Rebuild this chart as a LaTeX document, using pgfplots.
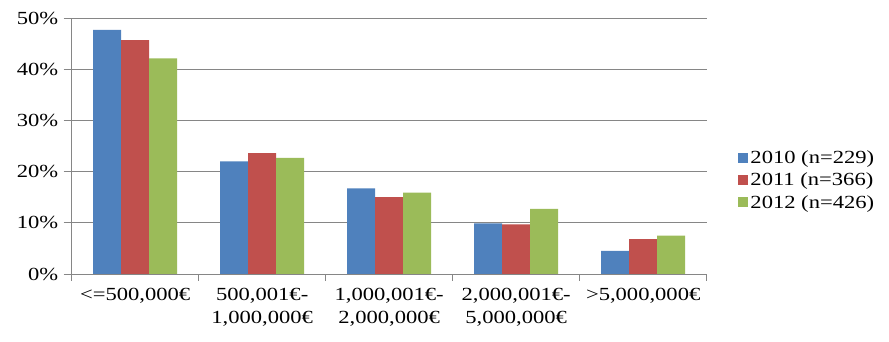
\documentclass[border=0pt]{standalone}
\usepackage{fontspec}
\setmainfont{Liberation Serif}[FakeStretch=1.22]
\usepackage{pgfplots}
\pgfplotsset{compat=1.18}
\definecolor{cblue}{RGB}{79,129,189}
\definecolor{cred}{RGB}{192,80,77}
\definecolor{cgreen}{RGB}{155,187,89}
\definecolor{gridgray}{RGB}{134,134,134}
\begin{document}
\begin{tikzpicture}[font=\fontsize{18.5}{23}\selectfont]
\useasboundingbox (-71.7pt,-68pt) rectangle (817.3pt,274pt);
\begin{axis}[
  at={(0,0)}, anchor=south west,
  scale only axis, width=635pt, height=256pt,
  xmin=-0.5, xmax=4.5, ymin=0, ymax=50,
  axis lines=left, axis line style={draw=gridgray, line width=0.8pt, -},
  ybar=0pt, bar width=28pt,
  xtick={0,...,4},
  xticklabels={{<=500,000€},{500,001€-\\1,000,000€},{1,000,001€-\\2,000,000€},{2,000,001€-\\5,000,000€},{>5,000,000€}},
  xticklabel style={align=center, yshift=-3pt},
  major x tick style={draw=none},
  minor xtick={-0.5,0.5,...,4.5},
  minor tick length=7pt,
  major tick length=8pt,
  tick align=outside,
  tick style={draw=gridgray, line width=0.8pt},
  ytick={0,10,...,50},
  yticklabel={\pgfmathprintnumber{\tick}\%},
  yticklabel style={xshift=-2pt},
  /pgf/number format/assume math mode=true,
  ymajorgrids, grid style={draw=gridgray, line width=0.8pt},
  legend style={at={(1.045,0.367)}, anchor=west, draw=none, fill=none,
    font=\fontsize{18.5}{23}\selectfont, row sep=4pt,
    nodes={inner xsep=2pt}},
  legend cell align=left,
  legend image code/.code={\fill[#1] (0pt,-5pt) rectangle (10pt,5pt);},
]
\addplot[fill=cblue, draw=none] coordinates {(0,47.7) (1,22.0) (2,16.7) (3,9.9) (4,4.5)};
\addplot[fill=cred, draw=none] coordinates {(0,45.7) (1,23.6) (2,15.0) (3,9.7) (4,6.8)};
\addplot[fill=cgreen, draw=none] coordinates {(0,42.1) (1,22.7) (2,15.9) (3,12.7) (4,7.5)};
\legend{2010 (n=229),2011 (n=366),2012 (n=426)}
\end{axis}
\end{tikzpicture}
\end{document}
